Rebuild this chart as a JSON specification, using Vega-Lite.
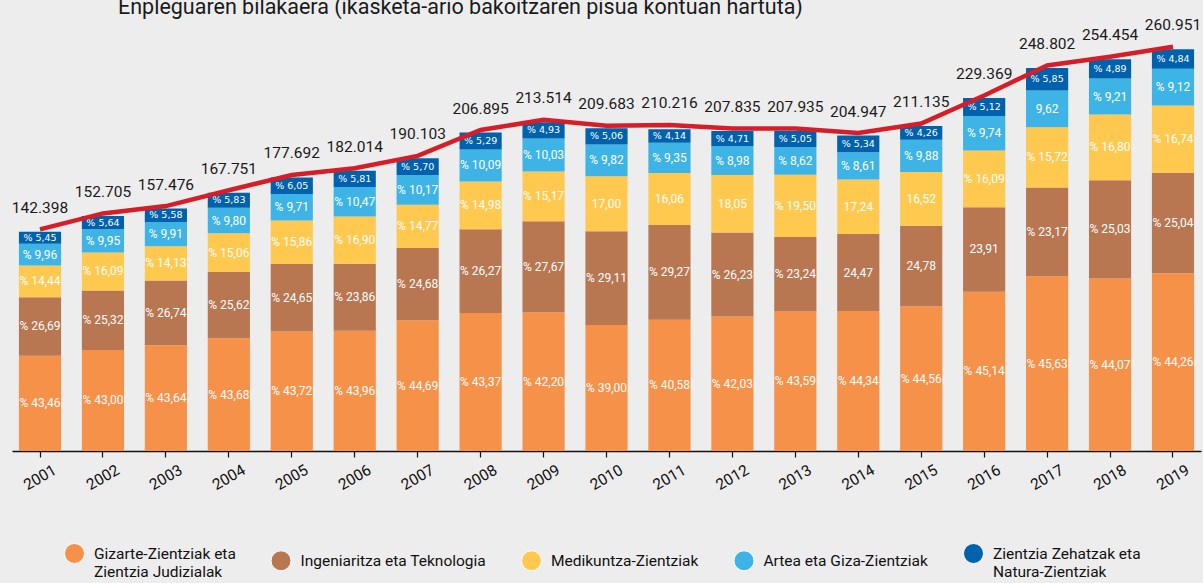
{
  "$schema": "https://vega.github.io/schema/vega-lite/v6.json",
  "width": 1189,
  "height": 431,
  "autosize": {"type": "none"},
  "padding": {"left": 12, "top": 20, "right": 2, "bottom": 132},
  "background": "#ededed",
  "title": {
    "text": "Enpleguaren bilakaera (ikasketa-ario bakoitzaren pisua kontuan hartuta)",
    "anchor": "start",
    "frame": "group",
    "dx": 106,
    "offset": 0,
    "dy": 17,
    "baseline": "alphabetic",
    "fontSize": 21.5,
    "font": "Roboto",
    "fontWeight": "normal",
    "color": "#1a1a1a"
  },
  "config": {
    "view": {"stroke": null},
    "font": "Roboto"
  },
  "datasets": {
    "seg": [
      {"year": "2001", "field": "Gizarte-Zientziak eta Zientzia Judizialak", "order": 1, "value": 61.886, "label": "% 43,46"},
      {"year": "2001", "field": "Ingeniaritza eta Teknologia", "order": 2, "value": 38.007, "label": "% 26,69"},
      {"year": "2001", "field": "Medikuntza-Zientziak", "order": 3, "value": 20.562, "label": "% 14,44"},
      {"year": "2001", "field": "Artea eta Giza-Zientziak", "order": 4, "value": 14.183, "label": "% 9,96"},
      {"year": "2001", "field": "Zientzia Zehatzak eta Natura-Zientziak", "order": 5, "value": 7.761, "label": "% 5,45"},
      {"year": "2002", "field": "Gizarte-Zientziak eta Zientzia Judizialak", "order": 1, "value": 65.663, "label": "% 43,00"},
      {"year": "2002", "field": "Ingeniaritza eta Teknologia", "order": 2, "value": 38.665, "label": "% 25,32"},
      {"year": "2002", "field": "Medikuntza-Zientziak", "order": 3, "value": 24.570, "label": "% 16,09"},
      {"year": "2002", "field": "Artea eta Giza-Zientziak", "order": 4, "value": 15.194, "label": "% 9,95"},
      {"year": "2002", "field": "Zientzia Zehatzak eta Natura-Zientziak", "order": 5, "value": 8.613, "label": "% 5,64"},
      {"year": "2003", "field": "Gizarte-Zientziak eta Zientzia Judizialak", "order": 1, "value": 68.722, "label": "% 43,64"},
      {"year": "2003", "field": "Ingeniaritza eta Teknologia", "order": 2, "value": 42.109, "label": "% 26,74"},
      {"year": "2003", "field": "Medikuntza-Zientziak", "order": 3, "value": 22.251, "label": "% 14,13"},
      {"year": "2003", "field": "Artea eta Giza-Zientziak", "order": 4, "value": 15.606, "label": "% 9,91"},
      {"year": "2003", "field": "Zientzia Zehatzak eta Natura-Zientziak", "order": 5, "value": 8.787, "label": "% 5,58"},
      {"year": "2004", "field": "Gizarte-Zientziak eta Zientzia Judizialak", "order": 1, "value": 73.273, "label": "% 43,68"},
      {"year": "2004", "field": "Ingeniaritza eta Teknologia", "order": 2, "value": 42.978, "label": "% 25,62"},
      {"year": "2004", "field": "Medikuntza-Zientziak", "order": 3, "value": 25.263, "label": "% 15,06"},
      {"year": "2004", "field": "Artea eta Giza-Zientziak", "order": 4, "value": 16.440, "label": "% 9,80"},
      {"year": "2004", "field": "Zientzia Zehatzak eta Natura-Zientziak", "order": 5, "value": 9.780, "label": "% 5,83"},
      {"year": "2005", "field": "Gizarte-Zientziak eta Zientzia Judizialak", "order": 1, "value": 77.687, "label": "% 43,72"},
      {"year": "2005", "field": "Ingeniaritza eta Teknologia", "order": 2, "value": 43.801, "label": "% 24,65"},
      {"year": "2005", "field": "Medikuntza-Zientziak", "order": 3, "value": 28.182, "label": "% 15,86"},
      {"year": "2005", "field": "Artea eta Giza-Zientziak", "order": 4, "value": 17.254, "label": "% 9,71"},
      {"year": "2005", "field": "Zientzia Zehatzak eta Natura-Zientziak", "order": 5, "value": 10.750, "label": "% 6,05"},
      {"year": "2006", "field": "Gizarte-Zientziak eta Zientzia Judizialak", "order": 1, "value": 78.193, "label": "% 43,96"},
      {"year": "2006", "field": "Ingeniaritza eta Teknologia", "order": 2, "value": 43.429, "label": "% 23,86"},
      {"year": "2006", "field": "Medikuntza-Zientziak", "order": 3, "value": 30.760, "label": "% 16,90"},
      {"year": "2006", "field": "Artea eta Giza-Zientziak", "order": 4, "value": 19.057, "label": "% 10,47"},
      {"year": "2006", "field": "Zientzia Zehatzak eta Natura-Zientziak", "order": 5, "value": 10.575, "label": "% 5,81"},
      {"year": "2007", "field": "Gizarte-Zientziak eta Zientzia Judizialak", "order": 1, "value": 84.957, "label": "% 44,69"},
      {"year": "2007", "field": "Ingeniaritza eta Teknologia", "order": 2, "value": 46.917, "label": "% 24,68"},
      {"year": "2007", "field": "Medikuntza-Zientziak", "order": 3, "value": 28.078, "label": "% 14,77"},
      {"year": "2007", "field": "Artea eta Giza-Zientziak", "order": 4, "value": 19.333, "label": "% 10,17"},
      {"year": "2007", "field": "Zientzia Zehatzak eta Natura-Zientziak", "order": 5, "value": 10.836, "label": "% 5,70"},
      {"year": "2008", "field": "Gizarte-Zientziak eta Zientzia Judizialak", "order": 1, "value": 89.730, "label": "% 43,37"},
      {"year": "2008", "field": "Ingeniaritza eta Teknologia", "order": 2, "value": 54.351, "label": "% 26,27"},
      {"year": "2008", "field": "Medikuntza-Zientziak", "order": 3, "value": 30.993, "label": "% 14,98"},
      {"year": "2008", "field": "Artea eta Giza-Zientziak", "order": 4, "value": 20.876, "label": "% 10,09"},
      {"year": "2008", "field": "Zientzia Zehatzak eta Natura-Zientziak", "order": 5, "value": 10.945, "label": "% 5,29"},
      {"year": "2009", "field": "Gizarte-Zientziak eta Zientzia Judizialak", "order": 1, "value": 90.103, "label": "% 42,20"},
      {"year": "2009", "field": "Ingeniaritza eta Teknologia", "order": 2, "value": 59.079, "label": "% 27,67"},
      {"year": "2009", "field": "Medikuntza-Zientziak", "order": 3, "value": 32.390, "label": "% 15,17"},
      {"year": "2009", "field": "Artea eta Giza-Zientziak", "order": 4, "value": 21.416, "label": "% 10,03"},
      {"year": "2009", "field": "Zientzia Zehatzak eta Natura-Zientziak", "order": 5, "value": 10.526, "label": "% 4,93"},
      {"year": "2010", "field": "Gizarte-Zientziak eta Zientzia Judizialak", "order": 1, "value": 81.776, "label": "% 39,00"},
      {"year": "2010", "field": "Ingeniaritza eta Teknologia", "order": 2, "value": 61.039, "label": "% 29,11"},
      {"year": "2010", "field": "Medikuntza-Zientziak", "order": 3, "value": 35.646, "label": "17,00"},
      {"year": "2010", "field": "Artea eta Giza-Zientziak", "order": 4, "value": 20.591, "label": "% 9,82"},
      {"year": "2010", "field": "Zientzia Zehatzak eta Natura-Zientziak", "order": 5, "value": 10.610, "label": "% 5,06"},
      {"year": "2011", "field": "Gizarte-Zientziak eta Zientzia Judizialak", "order": 1, "value": 85.306, "label": "% 40,58"},
      {"year": "2011", "field": "Ingeniaritza eta Teknologia", "order": 2, "value": 61.530, "label": "% 29,27"},
      {"year": "2011", "field": "Medikuntza-Zientziak", "order": 3, "value": 33.761, "label": "16,06"},
      {"year": "2011", "field": "Artea eta Giza-Zientziak", "order": 4, "value": 19.655, "label": "% 9,35"},
      {"year": "2011", "field": "Zientzia Zehatzak eta Natura-Zientziak", "order": 5, "value": 8.703, "label": "% 4,14"},
      {"year": "2012", "field": "Gizarte-Zientziak eta Zientzia Judizialak", "order": 1, "value": 87.353, "label": "% 42,03"},
      {"year": "2012", "field": "Ingeniaritza eta Teknologia", "order": 2, "value": 54.515, "label": "% 26,23"},
      {"year": "2012", "field": "Medikuntza-Zientziak", "order": 3, "value": 37.514, "label": "18,05"},
      {"year": "2012", "field": "Artea eta Giza-Zientziak", "order": 4, "value": 18.664, "label": "% 8,98"},
      {"year": "2012", "field": "Zientzia Zehatzak eta Natura-Zientziak", "order": 5, "value": 9.789, "label": "% 4,71"},
      {"year": "2013", "field": "Gizarte-Zientziak eta Zientzia Judizialak", "order": 1, "value": 90.639, "label": "% 43,59"},
      {"year": "2013", "field": "Ingeniaritza eta Teknologia", "order": 2, "value": 48.324, "label": "% 23,24"},
      {"year": "2013", "field": "Medikuntza-Zientziak", "order": 3, "value": 40.547, "label": "% 19,50"},
      {"year": "2013", "field": "Artea eta Giza-Zientziak", "order": 4, "value": 17.924, "label": "% 8,62"},
      {"year": "2013", "field": "Zientzia Zehatzak eta Natura-Zientziak", "order": 5, "value": 10.501, "label": "% 5,05"},
      {"year": "2014", "field": "Gizarte-Zientziak eta Zientzia Judizialak", "order": 1, "value": 90.874, "label": "% 44,34"},
      {"year": "2014", "field": "Ingeniaritza eta Teknologia", "order": 2, "value": 50.151, "label": "24,47"},
      {"year": "2014", "field": "Medikuntza-Zientziak", "order": 3, "value": 35.333, "label": "17,24"},
      {"year": "2014", "field": "Artea eta Giza-Zientziak", "order": 4, "value": 17.646, "label": "% 8,61"},
      {"year": "2014", "field": "Zientzia Zehatzak eta Natura-Zientziak", "order": 5, "value": 10.944, "label": "% 5,34"},
      {"year": "2015", "field": "Gizarte-Zientziak eta Zientzia Judizialak", "order": 1, "value": 94.082, "label": "% 44,56"},
      {"year": "2015", "field": "Ingeniaritza eta Teknologia", "order": 2, "value": 52.319, "label": "24,78"},
      {"year": "2015", "field": "Medikuntza-Zientziak", "order": 3, "value": 34.880, "label": "16,52"},
      {"year": "2015", "field": "Artea eta Giza-Zientziak", "order": 4, "value": 20.860, "label": "% 9,88"},
      {"year": "2015", "field": "Zientzia Zehatzak eta Natura-Zientziak", "order": 5, "value": 8.994, "label": "% 4,26"},
      {"year": "2016", "field": "Gizarte-Zientziak eta Zientzia Judizialak", "order": 1, "value": 103.537, "label": "% 45,14"},
      {"year": "2016", "field": "Ingeniaritza eta Teknologia", "order": 2, "value": 54.842, "label": "23,91"},
      {"year": "2016", "field": "Medikuntza-Zientziak", "order": 3, "value": 36.905, "label": "% 16,09"},
      {"year": "2016", "field": "Artea eta Giza-Zientziak", "order": 4, "value": 22.340, "label": "% 9,74"},
      {"year": "2016", "field": "Zientzia Zehatzak eta Natura-Zientziak", "order": 5, "value": 11.744, "label": "% 5,12"},
      {"year": "2017", "field": "Gizarte-Zientziak eta Zientzia Judizialak", "order": 1, "value": 113.528, "label": "% 45,63"},
      {"year": "2017", "field": "Ingeniaritza eta Teknologia", "order": 2, "value": 57.647, "label": "% 23,17"},
      {"year": "2017", "field": "Medikuntza-Zientziak", "order": 3, "value": 39.112, "label": "% 15,72"},
      {"year": "2017", "field": "Artea eta Giza-Zientziak", "order": 4, "value": 23.935, "label": "9,62"},
      {"year": "2017", "field": "Zientzia Zehatzak eta Natura-Zientziak", "order": 5, "value": 14.555, "label": "% 5,85"},
      {"year": "2018", "field": "Gizarte-Zientziak eta Zientzia Judizialak", "order": 1, "value": 112.138, "label": "% 44,07"},
      {"year": "2018", "field": "Ingeniaritza eta Teknologia", "order": 2, "value": 63.690, "label": "% 25,03"},
      {"year": "2018", "field": "Medikuntza-Zientziak", "order": 3, "value": 42.748, "label": "% 16,80"},
      {"year": "2018", "field": "Artea eta Giza-Zientziak", "order": 4, "value": 23.435, "label": "% 9,21"},
      {"year": "2018", "field": "Zientzia Zehatzak eta Natura-Zientziak", "order": 5, "value": 12.443, "label": "% 4,89"},
      {"year": "2019", "field": "Gizarte-Zientziak eta Zientzia Judizialak", "order": 1, "value": 115.497, "label": "% 44,26"},
      {"year": "2019", "field": "Ingeniaritza eta Teknologia", "order": 2, "value": 65.342, "label": "% 25,04"},
      {"year": "2019", "field": "Medikuntza-Zientziak", "order": 3, "value": 43.683, "label": "% 16,74"},
      {"year": "2019", "field": "Artea eta Giza-Zientziak", "order": 4, "value": 23.799, "label": "% 9,12"},
      {"year": "2019", "field": "Zientzia Zehatzak eta Natura-Zientziak", "order": 5, "value": 12.630, "label": "% 4,84"}
    ],
    "tot": [
      {"year": "2001", "total": 142.398, "label": "142.398"},
      {"year": "2002", "total": 152.705, "label": "152.705"},
      {"year": "2003", "total": 157.476, "label": "157.476"},
      {"year": "2004", "total": 167.751, "label": "167.751"},
      {"year": "2005", "total": 177.692, "label": "177.692"},
      {"year": "2006", "total": 182.014, "label": "182.014"},
      {"year": "2007", "total": 190.103, "label": "190.103"},
      {"year": "2008", "total": 206.895, "label": "206.895"},
      {"year": "2009", "total": 213.514, "label": "213.514"},
      {"year": "2010", "total": 209.683, "label": "209.683"},
      {"year": "2011", "total": 210.216, "label": "210.216"},
      {"year": "2012", "total": 207.835, "label": "207.835"},
      {"year": "2013", "total": 207.935, "label": "207.935"},
      {"year": "2014", "total": 204.947, "label": "204.947"},
      {"year": "2015", "total": 211.135, "label": "211.135"},
      {"year": "2016", "total": 229.369, "label": "229.369"},
      {"year": "2017", "total": 248.802, "label": "248.802"},
      {"year": "2018", "total": 254.454, "label": "254.454"},
      {"year": "2019", "total": 260.951, "label": "260.951"}
    ]
  },
  "layer": [
    {
      "data": {"name": "seg"},
      "mark": {"type": "bar"},
      "encoding": {
        "x": {
          "field": "year", "type": "ordinal",
          "scale": {"paddingInner": 0.33, "paddingOuter": 0.11},
          "axis": {
            "title": null, "labelAngle": -30, "labelAlign": "center", "labelBaseline": "middle",
            "labelPadding": 20, "labelFontSize": 15.5, "labelColor": "#111111", "labelFont": "Roboto",
            "domainColor": "#111111", "domainWidth": 1.5, "tickColor": "#111111",
            "tickSize": 6, "tickWidth": 1.2, "grid": false
          }
        },
        "y": {"field": "value", "type": "quantitative", "stack": "zero", "scale": {"domain": [0, 279]}, "axis": null},
        "order": {"field": "order", "type": "quantitative"},
        "color": {
          "field": "field", "type": "nominal",
          "scale": {
            "domain": ["Gizarte-Zientziak eta Zientzia Judizialak", "Ingeniaritza eta Teknologia", "Medikuntza-Zientziak", "Artea eta Giza-Zientziak", "Zientzia Zehatzak eta Natura-Zientziak"],
            "range": ["#f6914a", "#b87651", "#ffc94f", "#3db4e5", "#0061ad"]
          },
          "legend": {
            "title": null, "orient": "none", "legendX": 52, "legendY": 523,
            "direction": "horizontal", "columns": 5, "padding": 0,
            "symbolType": "circle", "symbolSize": 400, "symbolStrokeColor": "#ffffff", "symbolStrokeWidth": 1,
            "labelFont": "Roboto", "labelFontSize": 15.5, "labelColor": "#111111", "labelLimit": 0, "labelOffset": 9,
            "columnPadding": 32.5, "labelBaseline": "alphabetic",
            "labelExpr": "datum.label == 'Gizarte-Zientziak eta Zientzia Judizialak' ? ['Gizarte-Zientziak eta', 'Zientzia Judizialak'] : datum.label == 'Zientzia Zehatzak eta Natura-Zientziak' ? ['Zientzia Zehatzak eta', 'Natura-Zientziak'] : datum.label == 'Artea eta Giza-Zientziak' ? '\u00a0\u00a0\u00a0\u00a0\u00a0\u00a0\u00a0Artea eta Giza-Zientziak' : datum.label",
            "encode": {"labels": {"update": {"dy": {"value": 5.5}}}}
          }
        }
      }
    },
    {
      "data": {"name": "seg"},
      "transform": [
        {"stack": "value", "groupby": ["year"], "sort": [{"field": "order", "order": "ascending"}], "as": ["v0", "v1"]},
        {"filter": "datum.field != 'Zientzia Zehatzak eta Natura-Zientziak'"},
        {"fold": ["v0", "v1"], "as": ["edge", "pos"]},
        {"aggregate": [{"op": "mean", "field": "pos", "as": "mid"}], "groupby": ["year", "field", "label"]}
      ],
      "mark": {"type": "text", "color": "#ffffff", "baseline": "middle", "font": "Roboto", "fontSize": 12},
      "encoding": {
        "x": {"field": "year", "type": "ordinal"},
        "y": {"field": "mid", "type": "quantitative"},
        "text": {"field": "label"}
      }
    },
    {
      "data": {"name": "seg"},
      "transform": [
        {"stack": "value", "groupby": ["year"], "sort": [{"field": "order", "order": "ascending"}], "as": ["v0", "v1"]},
        {"filter": "datum.field == 'Zientzia Zehatzak eta Natura-Zientziak'"},
        {"fold": ["v0", "v1"], "as": ["edge", "pos"]},
        {"aggregate": [{"op": "mean", "field": "pos", "as": "mid"}], "groupby": ["year", "field", "label"]}
      ],
      "mark": {"type": "text", "color": "#ffffff", "baseline": "middle", "font": "DejaVu Sans", "fontSize": 9.5},
      "encoding": {
        "x": {"field": "year", "type": "ordinal"},
        "y": {"field": "mid", "type": "quantitative"},
        "text": {"field": "label"}
      }
    },
    {
      "data": {"name": "tot"},
      "mark": {"type": "line", "color": "#d71d27", "strokeWidth": 4.5, "yOffset": -2.5},
      "encoding": {
        "x": {"field": "year", "type": "ordinal"},
        "y": {"field": "total", "type": "quantitative"}
      }
    },
    {
      "data": {"name": "tot"},
      "mark": {"type": "text", "color": "#1a1a1a", "baseline": "alphabetic", "dy": -19, "fontSize": 15.5, "font": "Roboto"},
      "encoding": {
        "x": {"field": "year", "type": "ordinal"},
        "y": {"field": "total", "type": "quantitative"},
        "text": {"field": "label"}
      }
    }
  ]
}
